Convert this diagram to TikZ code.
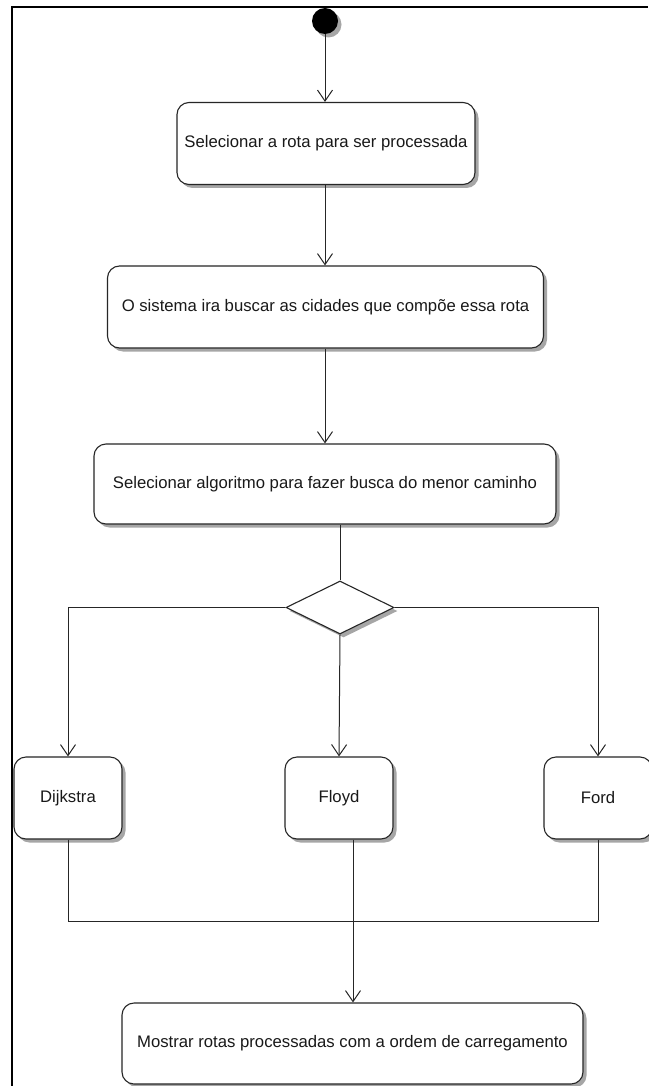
\documentclass[tikz,border=0pt]{standalone}
\usepackage{fontspec}
\setmainfont{Liberation Sans}
\usetikzlibrary{arrows.meta,shapes.geometric,shadows}
\begin{document}
\begin{tikzpicture}[x=1pt,y=1pt,
  shade box/.style={drop shadow={shadow xshift=3.5pt,shadow yshift=-3.5pt,fill=black!35,opacity=1}},
  activity/.style={draw=black!85,line width=1.1pt,fill=white,rounded corners=12pt,
    shade box,inner sep=0pt,font=\fontsize{16.7}{19}\selectfont,text=black!90},
  choice/.style={draw=black!85,line width=1.1pt,fill=white,diamond,aspect=2.04,
    shade box,inner sep=0pt,minimum width=108pt,minimum height=53pt},
  startdot/.style={circle,fill=black,minimum size=26pt,inner sep=0pt,shade box},
  flow/.style={draw=black!85,line width=1pt},
  into/.style={flow,-{Straight Barb[length=11pt,width=15pt,line width=1pt]}}]

\useasboundingbox (0,0) rectangle (648,-1086);
\fill[white] (0,0) rectangle (648,-1086);
% frame edges
\draw[line width=2pt,black] (12,-1086) -- (12,-7) -- (648,-7);

% start and activities
\node[startdot] (start) at (325,-21) {};
\node[activity,minimum width=298pt,minimum height=82pt] (b1) at (326,-143.5)
  {Selecionar a rota para ser processada};
\node[activity,minimum width=436pt,minimum height=82pt] (b2) at (325.5,-307)
  {O sistema ira buscar as cidades que compõe essa rota};
\node[activity,minimum width=462pt,minimum height=80pt] (b3) at (325,-484)
  {Selecionar algoritmo para fazer busca do menor caminho};
\node[choice] (d) at (340,-607.5) {};
\node[activity,minimum width=108pt,minimum height=82pt] (dij) at (68,-798) {Dijkstra};
\node[activity,minimum width=108pt,minimum height=82pt] (floyd) at (339,-798) {Floyd};
\node[activity,minimum width=108pt,minimum height=82pt] (ford) at (598,-798) {Ford};
\node[activity,minimum width=461pt,minimum height=81pt] (final) at (352.5,-1043.5)
  {Mostrar rotas processadas com a ordem de carregamento};
\coordinate (j) at (353,-921);

% control flow
\draw[into] (start.south) -- (start.south |- b1.north);
\draw[into] (b1.south -| start.south) -- (b2.north -| start.south);
\draw[into] (b2.south -| start.south) -- (b3.north -| start.south);
\draw[flow] (b3.south -| d.north) -- (d.north);
\draw[into] (d.west) -| (dij.north);
\draw[into] (d.east) -| (ford.north);
\draw[into] (d.south) -- (floyd.north);
\draw[flow] (dij.south) |- (j);
\draw[flow] (ford.south) |- (j);
\draw[into] (floyd.south -| j) -- (final.north -| j);
\end{tikzpicture}
\end{document}
